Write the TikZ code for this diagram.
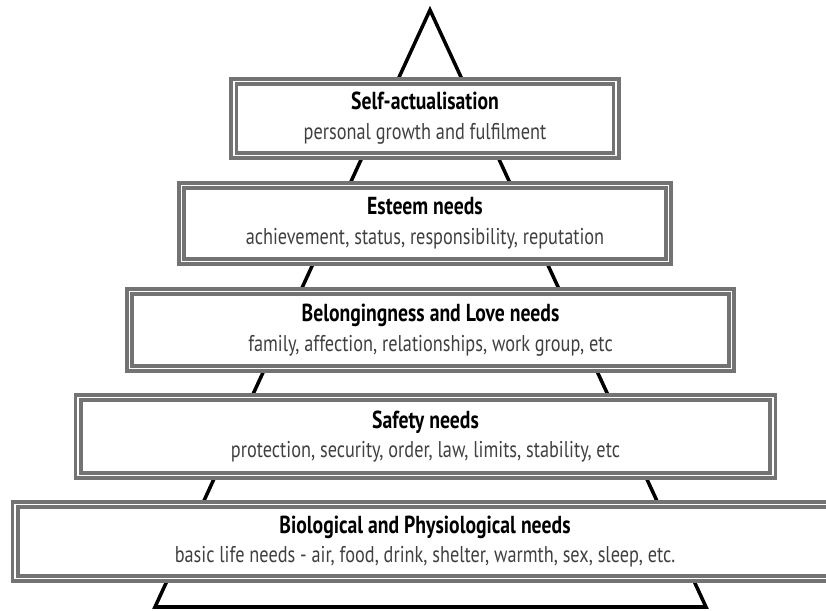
\documentclass[tikz,border=0pt]{standalone}
\usepackage{fontspec}
\setmainfont{PT Sans}[FakeStretch=0.8]
\usepackage{tikz}
\usetikzlibrary{positioning}

\begin{document}
\begin{tikzpicture}[x=0.02cm, y=-0.02cm,
	needbox/.style={draw=black!55, line width=2.1pt, double=white, double distance=0.9pt,
		fill=white, inner sep=0pt, align=center,
		font=\fontsize{13}{17}\selectfont},
	pyramid/.style={draw=black, line width=2pt, line join=miter}]
\useasboundingbox (0,0) rectangle (826,611);

\coordinate (apex) at (430,10);
\coordinate (baseL) at (155,607);
\coordinate (baseR) at (706,607);
\draw[pyramid] (apex) -- (baseL) -- (baseR) -- cycle;

\node[needbox, minimum width=7.65cm, minimum height=1.48cm] (N5) at (425,118.5)
	{{\fontsize{14}{17}\selectfont\bfseries Self-actualisation}\\{\color{black!75}personal growth and fulfilment}};
\node[needbox, minimum width=9.75cm, minimum height=1.52cm] (N4) at (425,223.5)
	{{\fontsize{14}{17}\selectfont\bfseries Esteem needs}\\{\color{black!75}achievement, status, responsibility, reputation}};
\node[needbox, minimum width=12.05cm, minimum height=1.54cm] (N3) at (430.5,330)
	{{\fontsize{14}{17}\selectfont\bfseries Belongingness and Love needs}\\{\color{black!75}family, affection, relationships, work group, etc}};
\node[needbox, minimum width=13.9cm, minimum height=1.56cm] (N2) at (425.5,436.5)
	{{\fontsize{14}{17}\selectfont\bfseries Safety needs}\\{\color{black!75}protection, security, order, law, limits, stability, etc}};
\node[needbox, minimum width=16.4cm, minimum height=1.48cm] (N1) at (425,541.5)
	{{\fontsize{14}{17}\selectfont\bfseries Biological and Physiological needs}\\{\color{black!75}basic life needs - air, food, drink, shelter, warmth, sex, sleep, etc.}};
\end{tikzpicture}
\end{document}
